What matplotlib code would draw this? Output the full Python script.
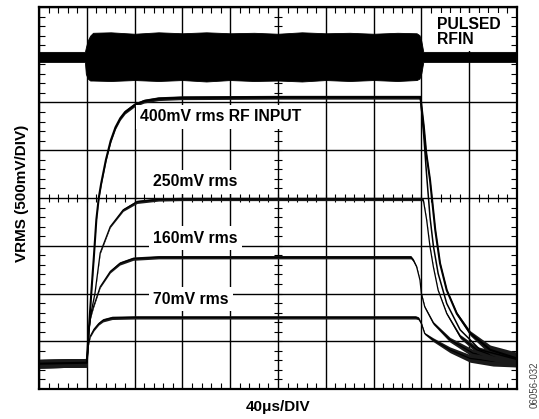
import matplotlib
matplotlib.use('Agg')
import matplotlib.pyplot as plt
import numpy as np
from matplotlib.ticker import MultipleLocator

# Everything is in scope divisions: x = 40us/DIV (10 div), y = 500mV/DIV (8 div).

# Pulsed RF input trace, drawn as its noise envelope.
RFIN_T = [0.0, 0.96, 0.98, 1.02, 1.07, 1.13, 1.5, 2.0, 2.5, 3.0, 3.5, 4.0, 4.5, 5.0, 5.5, 6.0,
          6.5, 7.0, 7.5, 7.9, 7.96, 8.0, 8.04, 10.0]
RFIN_HI = [7.06, 7.06, 7.15, 7.3, 7.4, 7.46, 7.47, 7.44, 7.47, 7.45, 7.47, 7.45, 7.46, 7.44,
           7.47, 7.45, 7.46, 7.44, 7.46, 7.45, 7.41, 7.28, 7.06, 7.06]
RFIN_LO = [6.85, 6.85, 6.6, 6.5, 6.46, 6.46, 6.45, 6.47, 6.45, 6.47, 6.44, 6.47, 6.45, 6.46,
           6.44, 6.47, 6.45, 6.47, 6.45, 6.47, 6.5, 6.62, 6.85, 6.85]

# RMS output for the four RF input levels: time, level, noise half-width.
T400 = [0.0, 1.0, 1.03, 1.1, 1.15, 1.2, 1.25, 1.3, 1.4, 1.5, 1.6, 1.7, 1.8, 2.0, 2.2, 2.5,
        3.0, 5.0, 7.98, 8.05, 8.1, 8.18, 8.29, 8.39, 8.53, 8.74, 9.02, 9.44, 10.0]
V400 = [0.53, 0.55, 1.05, 2.1, 2.8, 3.55, 4.0, 4.3, 4.8, 5.2, 5.48, 5.67, 5.8, 5.95, 6.03, 6.08,
        6.1, 6.11, 6.11, 5.5, 4.95, 4.38, 3.33, 2.63, 2.07, 1.58, 1.17, 0.82, 0.64]
N400 = [0.09, 0.09, 0.02, 0.02, 0.02, 0.02, 0.02, 0.03, 0.03, 0.04, 0.04, 0.04, 0.04, 0.04, 0.04, 0.04,
        0.04, 0.04, 0.04, 0.02, 0.02, 0.02, 0.02, 0.02, 0.02, 0.03, 0.05, 0.1, 0.13]

# second sweep of the 400mV fall, slightly earlier
T400B = [7.98, 8.05, 8.1, 8.18, 8.25, 8.35, 8.53, 8.81, 9.23, 10.0]
V400B = [6.11, 5.3, 4.6, 3.6, 3.0, 2.42, 1.79, 1.24, 0.82, 0.62]

T250 = [0.0, 1.0, 1.05, 1.1, 1.17, 1.28, 1.49, 1.76, 2.05, 2.5, 3.0, 5.0, 7.98, 8.04,
        8.11, 8.18, 8.25, 8.35, 8.53, 8.81, 9.16, 9.5, 10.0]
V250 = [0.53, 0.55, 1.3, 1.65, 2.0, 2.85, 3.4, 3.75, 3.92, 3.97, 3.98, 3.98, 3.98, 3.96,
        3.54, 2.98, 2.56, 2.07, 1.58, 1.1, 0.82, 0.7, 0.62]
N250 = [0.09, 0.09, 0.01, 0.01, 0.01, 0.02, 0.02, 0.03, 0.035, 0.035, 0.035, 0.035, 0.035, 0.02,
        0.01, 0.01, 0.01, 0.01, 0.02, 0.04, 0.07, 0.1, 0.12]

T160 = [0.0, 1.0, 1.04, 1.08, 1.14, 1.28, 1.49, 1.69, 1.97, 2.5, 4.0, 7.78, 7.83, 7.9, 7.97,
        8.0, 8.07, 8.25, 8.6, 9.08, 9.92, 10.0]
V160 = [0.53, 0.55, 1.2, 1.5, 1.72, 2.14, 2.46, 2.63, 2.73, 2.76, 2.76, 2.76, 2.7, 2.56, 2.28,
        2.0, 1.72, 1.38, 1.03, 0.75, 0.6, 0.6]
N160 = [0.09, 0.09, 0.01, 0.01, 0.02, 0.02, 0.03, 0.035, 0.035, 0.035, 0.035, 0.035, 0.03, 0.02, 0.01,
        0.01, 0.02, 0.03, 0.05, 0.08, 0.1, 0.1]

T70 = [0.0, 1.0, 1.03, 1.07, 1.15, 1.25, 1.34, 1.53, 2.0, 4.0, 7.88, 7.94, 8.0, 8.07,
       8.25, 8.6, 9.02, 9.5, 10.0]
V70 = [0.53, 0.55, 0.9, 1.1, 1.25, 1.37, 1.44, 1.49, 1.5, 1.5, 1.5, 1.48, 1.37, 1.16,
       1.03, 0.82, 0.64, 0.58, 0.56]
N70 = [0.09, 0.09, 0.01, 0.02, 0.03, 0.03, 0.035, 0.035, 0.035, 0.035, 0.035, 0.03, 0.02, 0.02,
       0.04, 0.06, 0.08, 0.1, 0.1]

LABELS = [
    ('400mV rms RF INPUT', 2.11, 5.70),
    ('250mV rms', 2.39, 4.34),
    ('160mV rms', 2.39, 3.16),
    ('70mV rms', 2.39, 1.88),
]

FONT = ['Liberation Sans', 'DejaVu Sans']


def plot_trace(ax, t, v, n, lw):
    t = np.asarray(t)
    v = np.asarray(v)
    n = np.asarray(n)
    ax.fill_between(t, v - n, v + n, color='#1a1a1a', lw=0, zorder=3)
    ax.plot(t, v, color='black', lw=lw, zorder=3, solid_joinstyle='round')


def main():
    fig = plt.figure(figsize=(5.39, 4.19), dpi=100)
    ax = fig.add_axes([39 / 539, 30 / 419, 478 / 539, 382 / 419])
    ax.set_xlim(0, 10)
    ax.set_ylim(0, 8)

    ax.set_xticks(range(11))
    ax.set_yticks(range(9))
    ax.xaxis.set_minor_locator(MultipleLocator(0.2))
    ax.yaxis.set_minor_locator(MultipleLocator(0.2))
    ax.grid(which='major', color='black', lw=1.0, zorder=1)
    ax.tick_params(which='major', length=0, labelbottom=False, labelleft=False)
    ax.tick_params(which='minor', direction='in', length=4.5, width=0.8,
                   top=True, right=True, color='black')
    for side in ax.spines.values():
        side.set_linewidth(1.6)
        side.set_zorder(6)

    # centre cross graticule ticks
    sub = np.arange(0.2, 10.0, 0.2)
    ax.plot(sub, np.full_like(sub, 4.0), ls='none', marker='|', ms=6, mew=0.8,
            color='black', zorder=2)
    sub = np.arange(0.2, 8.0, 0.2)
    ax.plot(np.full_like(sub, 5.0), sub, ls='none', marker='_', ms=6, mew=0.8,
            color='black', zorder=2)

    ax.fill_between(RFIN_T, RFIN_LO, RFIN_HI, color='black', lw=0.6, edgecolor='black', zorder=3)

    plot_trace(ax, T70, V70, N70, 0.9)
    plot_trace(ax, T160, V160, N160, 0.9)
    plot_trace(ax, T250, V250, N250, 0.9)
    plot_trace(ax, T400, V400, N400, 1.5)
    ax.plot(T400B, V400B, color='black', lw=1.1, zorder=3)

    box = dict(facecolor='white', edgecolor='none', pad=3)
    for text, x, y in LABELS:
        ax.text(x, y, text, ha='left', va='center', fontsize=11.3, fontweight='bold',
                family=FONT, bbox=box, zorder=5)
    ax.text(8.33, 7.475, 'PULSED\nRFIN', ha='left', va='center', fontsize=11.3,
            fontweight='bold', family=FONT, linespacing=1.0, bbox=box, zorder=5)

    fig.text(278 / 539, 1 - 407 / 419, '40\u03bcs/DIV', ha='center', va='center',
             fontsize=11, fontweight='bold', family=FONT)
    fig.text(22 / 539, 1 - 193 / 419, 'VRMS (500mV/DIV)', ha='center', va='center',
             rotation=90, fontsize=11, fontweight='bold', family=FONT)
    fig.text(0.992, 1 - 385 / 419, '06056-032', ha='center', va='center', rotation=90,
             fontsize=7, color='#444444', family=FONT)

    fig.savefig('out.png', dpi=100)


if __name__ == '__main__':
    main()
